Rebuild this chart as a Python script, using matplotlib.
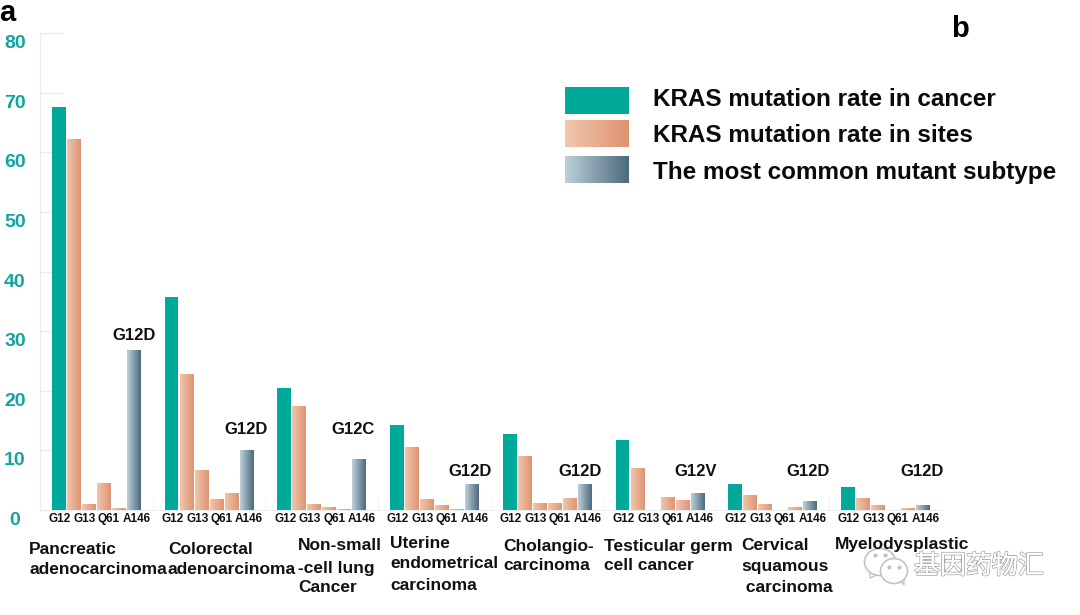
"""
KRAS mutation rates per cancer type, grouped bars with gradient fills,
panel labels and a watermark.
"""

import numpy as np
import matplotlib
matplotlib.use('Agg')
import matplotlib.pyplot as plt
import matplotlib.patheffects as pe
from matplotlib.colors import LinearSegmentedColormap
from matplotlib.patches import Ellipse, Polygon

plt.rcParams['font.family'] = ['Liberation Sans', 'DejaVu Sans']

W, H = 1080, 615

sites = ['G12', 'G13', 'Q61', 'A146']
yticks = [0, 10, 20, 30, 40, 50, 60, 70, 80]

cancer_rate = [67.6, 35.7, 20.5, 14.2, 12.8, 11.7, 4.3, 3.9]
site_g12 = [62.2, 22.8, 17.3, 10.4, 9.0, 7.0, 2.5, 1.9]
site_g13 = [0.9, 6.7, 0.85, 1.8, 1.1, 0.0, 1.0, 0.8]
site_q61 = [4.4, 1.7, 0.35, 0.7, 1.1, 2.05, 0.0, 0.0]
site_a146 = [0.2, 2.85, 0.1, 0.1, 1.95, 1.65, 0.5, 0.25]
subtype_rate = [26.8, 9.9, 8.4, 4.2, 4.35, 2.8, 1.4, 0.8]
subtype_names = ['G12D', 'G12D', 'G12C', 'G12D', 'G12D', 'G12V', 'G12D', 'G12D']

legend_labels = ['KRAS mutation rate in cancer', 'KRAS mutation rate in sites',
                 'The most common mutant subtype']

# positions in figure pixels
group_x = [52, 164.7, 277.3, 390, 503, 615.7, 728, 841]
subtype_label_x = [134, 246, 353, 470, 580, 696, 808, 922]
subtype_label_y = [336, 430, 430, 471, 471, 472, 471, 471]
name_x = [29, 168, 298, 390, 503, 604, 741, 835]
name_y = [[549, 570], [549, 570], [546, 568, 588], [543, 564, 585],
          [546, 566], [546, 566], [545, 566, 587], [545]]
names = [['Pancreatic', 'adenocarcinoma'], ['Colorectal', 'adenoarcinoma'],
         ['Non-small', '-cell lung', 'Cancer'], ['Uterine', 'endometrical', 'carcinoma'],
         ['Cholangio-', 'carcinoma'], ['Testicular germ', 'cell cancer'],
         ['Cervical', 'squamous', ' carcinoma'], ['Myelodysplastic']]

TEAL = '#00a99a'
SALMON = LinearSegmentedColormap.from_list('salmon', ['#f1c6ad', '#df9371'])
SLATE = LinearSegmentedColormap.from_list('slate', ['#bdd0d9', '#4c6a7d'])
GRID = '#e9eff1'
BAR_W = 13.7
PITCH = 15.0
Y_BASE, Y_TOP = 510, 33


def gradient_bars(ax, rects, cmap):
    grad = np.linspace(0, 1, 64).reshape(1, -1)
    for r in rects:
        if r.get_height() <= 0:
            continue
        ax.imshow(grad, cmap=cmap, aspect='auto', interpolation='bilinear',
                  extent=(r.get_x(), r.get_x() + r.get_width(), 0, r.get_height()), zorder=3)


def fig_text(fig, x, y, s, **kw):
    return fig.text(x / W, 1 - y / H, s, **kw)


def main():
    fig = plt.figure(figsize=(W / 100, H / 100), dpi=100)
    ax = fig.add_axes([0, 1 - Y_BASE / H, 1, (Y_BASE - Y_TOP) / H])

    gx = np.array(group_x)
    ax.bar(gx, cancer_rate, BAR_W, align='edge', color=TEAL, zorder=3)
    for i, vals in enumerate([site_g12, site_g13, site_q61, site_a146]):
        rects = ax.bar(gx + (i + 1) * PITCH, vals, BAR_W, align='edge', color='#e8ac8c', zorder=2)
        gradient_bars(ax, rects, SALMON)
    rects = ax.bar(gx + 5 * PITCH, subtype_rate, BAR_W, align='edge', color='#8aa0ae', zorder=2)
    gradient_bars(ax, rects, SLATE)

    ax.set_xlim(0, W)
    ax.set_ylim(0, 80)

    for s in ['top', 'right']:
        ax.spines[s].set_visible(False)
    ax.spines['left'].set_position(('data', 40))
    ax.spines['left'].set_color(GRID)
    ax.spines['bottom'].set_color(GRID)
    ax.spines['bottom'].set_bounds(40, 942)

    # gridline stubs, the value labels sit a little below them
    ax.set_yticks(yticks)
    ax.set_yticklabels([])
    ax.tick_params(axis='y', direction='in', length=16, color=GRID, width=1)
    for v in yticks:
        ax.annotate(str(v), (15, v), xytext=(0, -7.6), textcoords='offset points',
                    ha='center', va='center', color='#12a5a0', fontsize=14, fontweight='bold')

    # site labels under each group
    offs = np.array([8, 32.5, 57, 84.5])
    ax.set_xticks(np.concatenate([g + offs for g in gx]))
    ax.set_xticklabels(sites * len(gx), fontsize=8.5, fontweight='bold', color='#111111')
    ax.tick_params(axis='x', length=0, pad=2)
    ax.set_xticks(gx[1:] - 12, minor=True)
    ax.tick_params(axis='x', which='minor', direction='in', length=9, color=GRID)

    for x, y, s in zip(subtype_label_x, subtype_label_y, subtype_names):
        fig_text(fig, x, y, s, ha='center', va='center', fontsize=12, fontweight='bold', color='#111111')

    for x, ys, lines in zip(name_x, name_y, names):
        for y, s in zip(ys, lines):
            fig_text(fig, x, y, s, ha='left', va='center', fontsize=12.5, fontweight='bold', color='#111111')

    fig_text(fig, 7, 13, 'a', ha='center', va='center', fontsize=21, fontweight='bold', color='black')
    fig_text(fig, 960, 29, 'b', ha='center', va='center', fontsize=21, fontweight='bold', color='black')

    # legend swatches
    swatch_y = [87, 120, 156]
    text_y = [100, 135, 172]
    grad = np.linspace(0, 1, 64).reshape(1, -1)
    for y, ty, cmap, label in zip(swatch_y, text_y, [None, SALMON, SLATE], legend_labels):
        lax = fig.add_axes([565 / W, 1 - (y + 27) / H, 64 / W, 27 / H])
        lax.set_axis_off()
        if cmap is None:
            lax.imshow([[0]], cmap=LinearSegmentedColormap.from_list('t', [TEAL, TEAL]), aspect='auto')
        else:
            lax.imshow(grad, cmap=cmap, aspect='auto', interpolation='bilinear')
        fig_text(fig, 653, ty, label, ha='left', va='center', fontsize=17.5, fontweight='bold', color='#0a0a0a')

    # watermark
    wm = fig.add_axes([0, 0, 1, 1], facecolor='none')
    wm.set_xlim(0, W)
    wm.set_ylim(H, 0)
    wm.set_axis_off()
    wm.add_patch(Polygon([[870, 570], [870, 578], [879, 574]], fc='white', ec='#c4c4c4', lw=1))
    wm.add_patch(Ellipse((880, 562), 31, 27, fc='white', ec='#c4c4c4', lw=1.2))
    wm.add_patch(Polygon([[899, 580], [904, 585], [904, 577]], fc='white', ec='#c4c4c4', lw=1))
    wm.add_patch(Ellipse((894, 571), 27, 25, fc='white', ec='#c4c4c4', lw=1.2))
    for px, py in [(875, 555), (885, 555), (889, 567), (899, 567)]:
        wm.plot(px, py, 'o', ms=2, color='#c4c4c4')
    wm.text(979, 566, '基因药物汇', ha='center', va='center', fontsize=18.7,
            family=['Noto Sans CJK SC', 'DejaVu Sans'], color='white',
            path_effects=[pe.withStroke(linewidth=1.2, foreground='#a0a0a0'), pe.Normal()])

    fig.savefig('out.png', dpi=100)
    plt.close(fig)


if __name__ == '__main__':
    main()
